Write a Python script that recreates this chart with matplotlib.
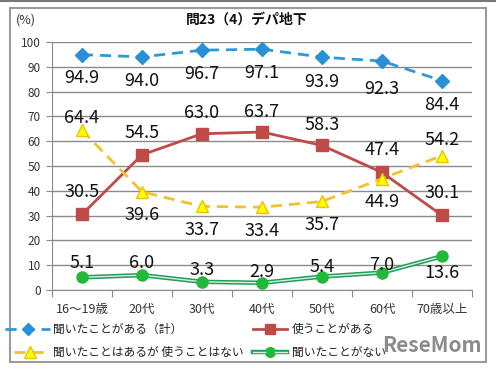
import matplotlib
matplotlib.use("Agg")
import matplotlib.pyplot as plt
from matplotlib.lines import Line2D
from matplotlib.patches import Rectangle

plt.rcParams['font.family'] = ['Noto Sans CJK JP', 'DejaVu Sans']

categories = ["16～19歳", "20代", "30代", "40代", "50代", "60代", "70歳以上"]
heard_total = [94.9, 94.0, 96.7, 97.1, 93.9, 92.3, 84.4]
use = [30.5, 54.5, 63.0, 63.7, 58.3, 47.4, 30.1]
heard_not_use = [64.4, 39.6, 33.7, 33.4, 35.7, 44.9, 54.2]
never_heard = [5.1, 6.0, 3.3, 2.9, 5.4, 7.0, 13.6]
series_names = ["聞いたことがある（計）", "使うことがある",
                "聞いたことはあるが 使うことはない", "聞いたことがない"]

# label offsets in pixels (up positive)
off_blue = [-23, -24, -24, -24, -25, -28, -24]
off_red = [22, 22, 21, 20, 20, 22, 22]
off_yel = [12, -23, -24, -24, -24, -23, 16]
off_grn = [14, 12, 12, 11, 10, 8, -17]

W, H = 496, 370
fig = plt.figure(figsize=(W / 100, H / 100), dpi=100)
ax = fig.add_axes([52 / W, (H - 290) / H, 420 / W, 248 / H])

x = list(range(len(categories)))
blue = "#2b9bd8"
red = "#be4b48"
gold = "#f2c12e"
green = "#1f9e5c"

ax.plot(x, heard_total, color=blue, lw=2, ls=(0, (4, 2.5)), marker="D", ms=7,
        mfc="#2790d6", mec="#2790d6", zorder=4)
ax.plot(x, use, color=red, lw=2, marker="s", ms=8, mfc=red, mec=red, zorder=4)
ax.plot(x, heard_not_use, color=gold, lw=2, ls=(0, (4, 2.5)), marker="^", ms=9,
        mfc="#ffff00", mec="#f0c000", zorder=4)
ax.plot(x, never_heard, color=green, lw=3.2, zorder=3)
ax.plot(x, never_heard, color="#d8f0dc", lw=1.0, zorder=3)
ax.plot(x, never_heard, ls="none", marker="o", ms=8, mfc="#22b83a", mec="#22b83a", zorder=4)

for vals, offs in [(heard_total, off_blue), (use, off_red),
                   (heard_not_use, off_yel), (never_heard, off_grn)]:
    for i, v in enumerate(vals):
        ax.annotate(f"{v:.1f}", (i, v), xytext=(0, offs[i]), textcoords="offset pixels",
                    ha="center", va="center", fontsize=13, color="#111111", zorder=5)

ax.set_xlim(-0.5, 6.5)
ax.set_ylim(0, 100)
ax.set_yticks(range(0, 101, 10))
ax.yaxis.grid(True, color="#8a8a8a", lw=1)
ax.set_axisbelow(True)
for s in ["top", "right"]:
    ax.spines[s].set_visible(False)
ax.spines["left"].set_color("#8a8a8a")
ax.spines["bottom"].set_color("#8a8a8a")
ax.tick_params(axis="y", length=4, color="#8a8a8a", labelsize=8.5, labelcolor="#333333", pad=4)
ax.set_xticks([i - 0.5 for i in range(8)], minor=False)
ax.set_xticklabels([])
ax.set_xticks(x, minor=True)
ax.set_xticklabels(categories, minor=True)
ax.tick_params(axis="x", which="major", length=5, direction="out", color="#8a8a8a")
ax.tick_params(axis="x", which="minor", length=0, labelsize=9, labelcolor="#333333", pad=9)

fig.text(247 / W, 1 - 20 / H, "問23（4）デパ地下", ha="center", va="center",
         fontsize=10, fontweight="bold", color="#111111")
fig.text(26 / W, 1 - 20 / H, "(%)", ha="center", va="center", fontsize=9, color="#333333")

# legend drawn by hand
def fx(px):
    return px / W

def fy(py):
    return 1 - py / H

legend_items = [
    (5, 50, 329, dict(color=blue, lw=2, ls=(0, (4, 2.5)), marker="D", ms=6, mfc="#2790d6", mec="#2790d6"), 53, series_names[0]),
    (253, 287, 329, dict(color=red, lw=2, marker="s", ms=7, mfc=red, mec=red), 292, series_names[1]),
    (14, 45, 352, dict(color=gold, lw=2, ls=(0, (4, 2.5)), marker="^", ms=8, mfc="#ffff00", mec="#f0c000"), 53, series_names[2]),
    (253, 287, 352, dict(color=green, lw=3.2, marker="o", ms=7, mfc="#22b83a", mec="#22b83a"), 292, series_names[3]),
]
for x0, x1, yy, style, tx, label in legend_items:
    fig.add_artist(Line2D([fx(x0), fx((x0 + x1) / 2), fx(x1)], [fy(yy)] * 3,
                          markevery=[1], **style))
    fig.text(fx(tx), fy(yy), label, ha="left", va="center", fontsize=8.5, color="#222222")
# inner light stripe of the green double line
fig.add_artist(Line2D([fx(253), fx(265)], [fy(352)] * 2, color="#d8f0dc", lw=1.0))
fig.add_artist(Line2D([fx(275), fx(287)], [fy(352)] * 2, color="#d8f0dc", lw=1.0))

fig.text(fx(482), fy(346), "ReseMom", ha="right", va="center", fontsize=15,
         fontweight="bold", color="#8c8c8c")

fig.add_artist(Rectangle((fx(10), fy(362)), fx(486) - fx(10), fy(8) - fy(362),
                         fill=False, ec="#9a9a9a", lw=1.5, transform=fig.transFigure))
fig.add_artist(Line2D([0, 1], [fy(1), fy(1)], color="#777777", lw=1.5))

fig.savefig("out.png", dpi=100)
